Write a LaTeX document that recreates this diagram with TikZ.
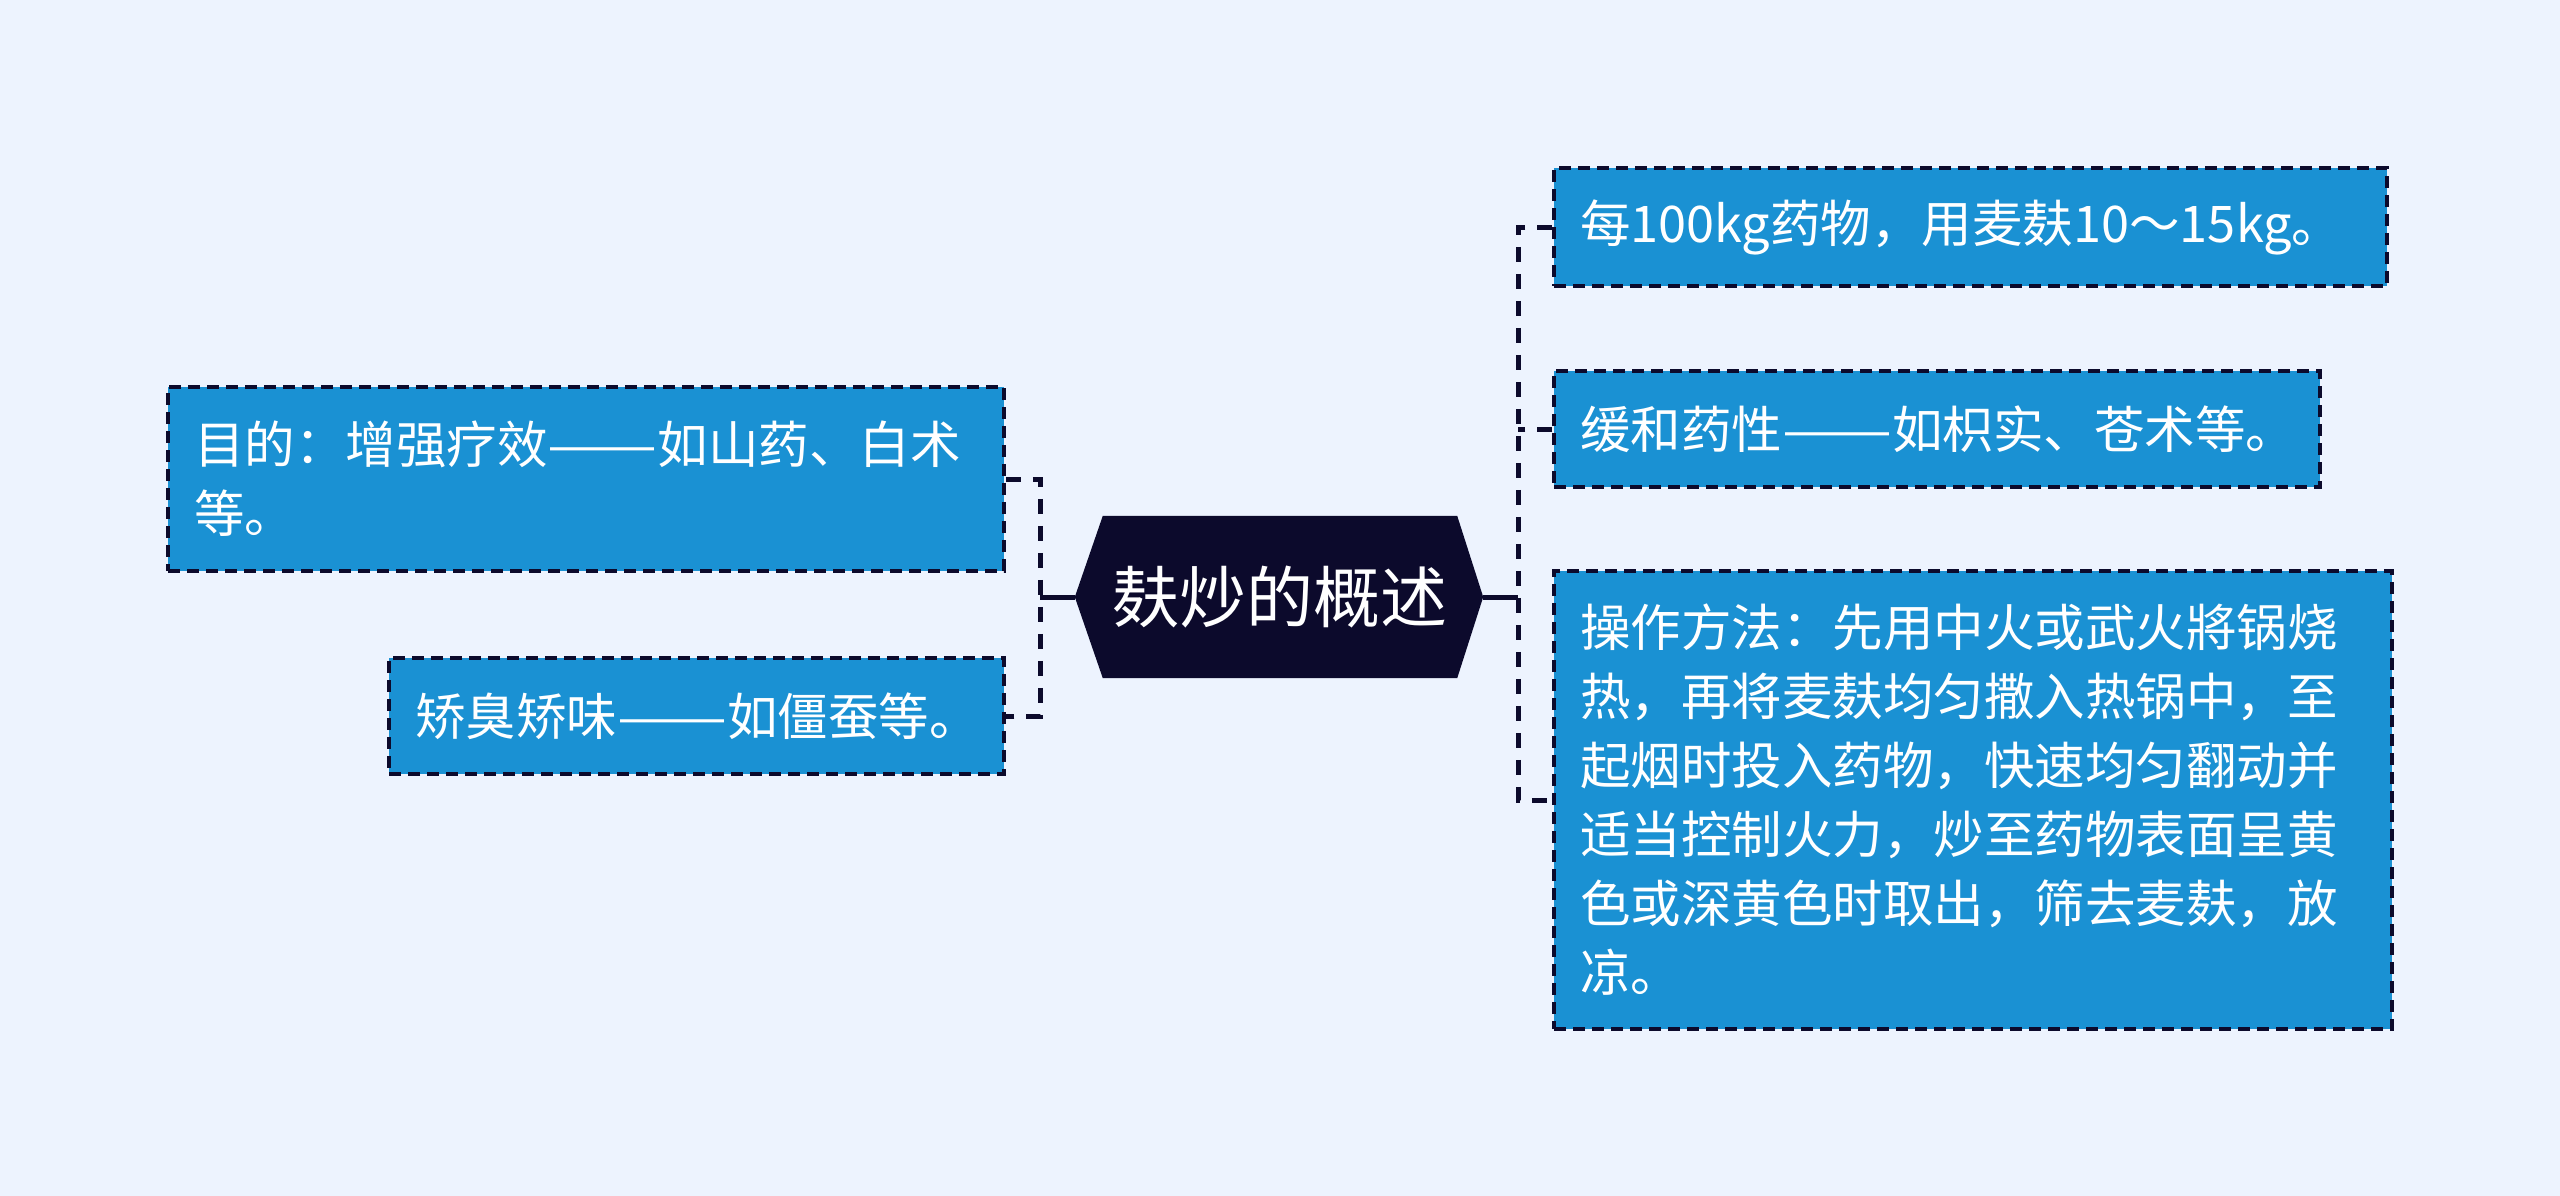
\documentclass[tikz,border=0pt]{standalone}
\usepackage{fontspec}
\setmainfont{Noto Sans CJK SC}
\usetikzlibrary{backgrounds}
\definecolor{bgc}{HTML}{EDF3FE}
\definecolor{boxc}{HTML}{1A91D3}
\definecolor{navy}{HTML}{0C0A2C}
\newcommand{\longdash}{\scalebox{1.3}[1]{——}}
\begin{document}
\begin{tikzpicture}[x=1pt,y=-1pt,
  leaf/.style={draw=navy, fill=boxc, line width=3.5pt, dash pattern=on 12pt off 7pt,
    text=white, font=\fontsize{50.5pt}{69pt}\selectfont, align=left,
    inner xsep=26pt, inner ysep=0pt, anchor=center},
  hub/.style={text=white, font=\fontsize{67pt}{74pt}\selectfont, inner sep=0pt,
    minimum width=354pt, minimum height=162pt, anchor=center},
  conn/.style={draw=navy, line width=5pt},
  dconn/.style={conn, dash pattern=on 15pt off 12pt}]
\useasboundingbox (0,0) rectangle (2560,1196);

\node[hub] (c) at (1280,597) {麸炒的概述};

\node[leaf, text width=784pt, minimum width=836pt, minimum height=184pt] (A) at (586,479)
  {目的：增强疗效\longdash 如山药、白术\\等。};
\node[leaf, text width=563pt, minimum width=615pt, minimum height=116pt] (B) at (696.5,716)
  {矫臭矫味\longdash 如僵蚕等。};
\node[leaf, text width=781pt, minimum width=833pt, minimum height=118pt] (R1) at (1970.5,227)
  {每100kg药物，用麦麸10～15kg。};
\node[leaf, text width=714pt, minimum width=766pt, minimum height=116pt] (R2) at (1937,429)
  {缓和药性\longdash 如枳实、苍术等。};
\node[leaf, text width=786pt, minimum width=838pt, minimum height=458pt] (R3) at (1973,800)
  {操作方法：先用中火或武火將锅烧\\热，再将麦麸均匀撒入热锅中，至\\起烟时投入药物，快速均匀翻动并\\适当控制火力，炒至药物表面呈黄\\色或深黄色时取出，筛去麦麸，放\\凉。};

\coordinate (cl) at ([xshift=-28pt]c.west);
\coordinate (cr) at ([xshift=26pt]c.east);
\coordinate (jl) at (1040,597);
\coordinate (jr) at (1518,597);

\begin{scope}[on background layer]
  \fill[bgc] (0,0) rectangle (2560,1196);
  \fill[navy] (cl) -- (c.north west) -- (c.north east) -- (cr) -- (c.south east) -- (c.south west) -- cycle;
\end{scope}

\draw[conn] (cl) -- (jl);
\draw[conn] (cr) -- (jr);
\draw[dconn] (A.east) -- (A.east -| jl) -- (B.east -| jl) -- (B.east);
\draw[dconn] (R1.west) -- (R1.west -| jr) -- (R3.west -| jr) -- (R3.west);
\draw[dconn] (R2.west) -- (R2.west -| jr);
\end{tikzpicture}
\end{document}
